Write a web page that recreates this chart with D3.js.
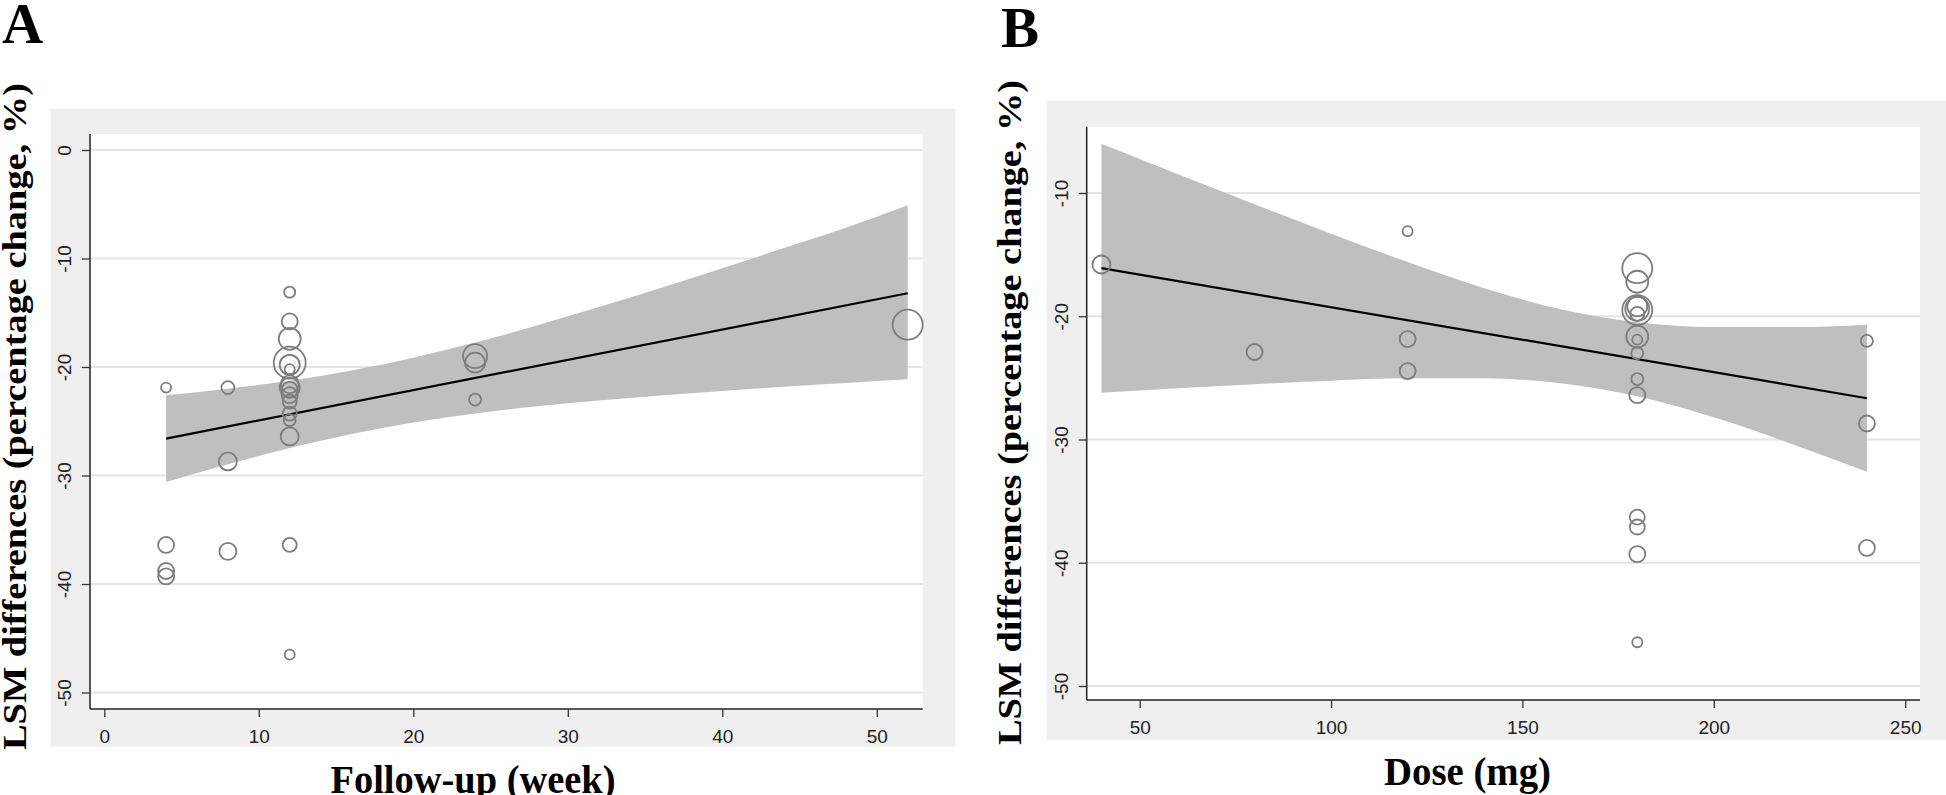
<!DOCTYPE html>
<html>
<head>
<meta charset="utf-8">
<script src="https://cdn.jsdelivr.net/npm/d3@7"></script>
<style>
  html, body { margin: 0; padding: 0; background: #ffffff; }
  svg { display: block; }
</style>
</head>
<body>
<svg id="chart" width="1946" height="795"></svg>
<script>
// ---------------- DATA ----------------
// Panel A: follow-up (week) vs LSM difference (%), marker size = study weight
const followUpWeeks = [4, 4, 4, 4, 8, 8, 8, 12, 12, 12, 12, 12, 12, 12, 12, 12, 12, 12, 12, 12, 12, 12, 12, 24, 24, 24, 52];
const lsmDiffA      = [-21.9, -36.4, -38.8, -39.3, -21.9, -28.7, -37.0, -13.1, -15.8, -17.4, -19.6, -19.8, -20.2, -21.6, -21.9, -22.1, -22.6, -23.2, -24.3, -24.9, -26.4, -36.4, -46.5, -19.0, -19.6, -23.0, -16.1];
const weightA       = [5, 8, 8, 8, 6.5, 9, 8.5, 5.5, 8, 11, 16, 10, 5, 9, 10, 8, 8, 7, 7, 6, 9, 7, 5, 12, 10, 6, 15];

// Panel A fitted line and 95% CI band
const fitA_x   = [4, 52];
const fitA_y   = [-26.6, -13.2];
const bandA_x  = [4, 8, 12, 16, 20, 24, 28, 32, 36, 40, 44, 48, 52];
const bandA_lo = [-30.6, -28.96, -27.47, -26.17, -25.11, -24.29, -23.62, -23.08, -22.62, -22.21, -21.82, -21.47, -21.13];
const bandA_hi = [-22.6, -22.0, -21.27, -20.33, -19.15, -17.75, -16.18, -14.48, -12.72, -10.89, -9.04, -7.17, -5.1];

// Panel B: dose (mg) vs LSM difference (%)
const doseMg   = [40, 80, 120, 120, 120, 180, 180, 180, 180, 180, 180, 180, 180, 180, 180, 180, 180, 180, 180, 180, 240, 240, 240];
const lsmDiffB = [-15.8, -22.9, -13.1, -21.85, -24.45, -16.1, -17.2, -19.2, -19.5, -19.8, -21.65, -21.9, -23.0, -25.1, -26.4, -36.3, -37.1, -39.3, -46.45, -19.4, -22.0, -28.7, -38.8];
const weightB  = [9, 8, 5, 8, 8, 15, 11, 10, 15, 7, 11, 5, 6, 6, 8, 7.5, 7.5, 8, 5, 12, 6, 8, 8];

// Panel B fitted line and 95% CI band
const fitB_x   = [40, 240];
const fitB_y   = [-16.1, -26.65];
const bandB_x  = [40, 60, 80, 100, 120, 140, 160, 180, 200, 220, 240];
const bandB_lo = [-26.2, -25.85, -25.51, -25.23, -25.04, -25.04, -25.43, -26.49, -28.2, -30.32, -32.62];
const bandB_hi = [-6.0, -8.47, -10.91, -13.31, -15.6, -17.72, -19.43, -20.49, -20.88, -20.88, -20.68];

// Ticks and labels
const ticksA_x = [0, 10, 20, 30, 40, 50];
const ticksA_y = [0, -10, -20, -30, -40, -50];
const ticksB_x = [50, 100, 150, 200, 250];
const ticksB_y = [-10, -20, -30, -40, -50];
const yTitle   = "LSM differences (percentage change, %)";
const xTitleA  = "Follow-up (week)";
const xTitleB  = "Dose (mg)";
const panelLabels = ["A", "B"];

// ---------------- LAYOUT ----------------
const svg = d3.select("#chart");
const SERIF = "'Liberation Serif', 'Times New Roman', serif";
const SANS  = "'Liberation Sans', Arial, sans-serif";

const panels = [
  {
    label: panelLabels[0], labelX: 2, labelY: 42.5,
    outer: {x: 50.7, y: 108.7, w: 904.9, h: 638},
    plot:  {x: 90, y: 134, w: 832.7, h: 575},
    x: d3.scaleLinear().domain([0, 50]).range([104.3, 876.8]),
    y: d3.scaleLinear().domain([0, -50]).range([150, 692.5]),
    xs: followUpWeeks, ys: lsmDiffA, ws: weightA,
    fitX: fitA_x, fitY: fitA_y, bx: bandA_x, blo: bandA_lo, bhi: bandA_hi,
    tx: ticksA_x, ty: ticksA_y,
    yTitleX: 25.5, yTitleY: 416.5, yTitleLen: 667,
    xTitle: xTitleA, xTitleX: 473, xTitleY: 792.5, xTitleLen: 285
  },
  {
    label: panelLabels[1], labelX: 1001, labelY: 46.5,
    outer: {x: 1046.7, y: 100.7, w: 899.3, h: 639.3},
    plot:  {x: 1086.7, y: 126.7, w: 833.3, h: 573.3},
    x: d3.scaleLinear().domain([50, 250]).range([1139.7, 1905.2]),
    y: d3.scaleLinear().domain([-10, -50]).range([193, 686]),
    xs: doseMg, ys: lsmDiffB, ws: weightB,
    fitX: fitB_x, fitY: fitB_y, bx: bandB_x, blo: bandB_lo, bhi: bandB_hi,
    tx: ticksB_x, ty: ticksB_y,
    yTitleX: 1021, yTitleY: 412.5, yTitleLen: 665,
    xTitle: xTitleB, xTitleX: 1467.5, xTitleY: 784.5, xTitleLen: 167
  }
];

const rScale = d3.scaleLinear().domain([0, 16]).range([0, 16]);

panels.forEach(p => {
  const g = svg.append("g");
  const P = p.plot;

  // outer grey graph region
  g.append("rect").attr("x", p.outer.x).attr("y", p.outer.y)
    .attr("width", p.outer.w).attr("height", p.outer.h).attr("fill", "#efefef");
  // white plot region
  g.append("rect").attr("x", P.x).attr("y", P.y)
    .attr("width", P.w).attr("height", P.h).attr("fill", "#ffffff");

  // gridlines
  g.selectAll(".grid").data(p.ty).join("line")
    .attr("x1", P.x).attr("x2", P.x + P.w)
    .attr("y1", d => p.y(d)).attr("y2", d => p.y(d))
    .attr("stroke", "#e4e4e4").attr("stroke-width", 2);

  // CI band
  const bandData = p.bx.map((v, i) => ({x: v, lo: p.blo[i], hi: p.bhi[i]}));
  g.append("path").datum(bandData)
    .attr("d", d3.area().x(d => p.x(d.x)).y0(d => p.y(d.lo)).y1(d => p.y(d.hi)).curve(d3.curveMonotoneX))
    .attr("fill", "#bfbfbf");

  // fitted line
  const fitData = p.fitX.map((v, i) => ({x: v, y: p.fitY[i]}));
  g.append("path").datum(fitData)
    .attr("d", d3.line().x(d => p.x(d.x)).y(d => p.y(d.y)))
    .attr("fill", "none").attr("stroke", "#000").attr("stroke-width", 2.2);

  // points
  const pts = p.xs.map((v, i) => ({x: v, y: p.ys[i], w: p.ws[i]}));
  g.selectAll(".pt").data(pts).join("circle")
    .attr("cx", d => p.x(d.x)).attr("cy", d => p.y(d.y)).attr("r", d => rScale(d.w))
    .attr("fill", "none").attr("stroke", "#7d7d7d").attr("stroke-width", 1.8);

  // axis lines
  g.append("line").attr("x1", P.x).attr("x2", P.x).attr("y1", P.y).attr("y2", P.y + P.h)
    .attr("stroke", "#222").attr("stroke-width", 1.5);
  g.append("line").attr("x1", P.x).attr("x2", P.x + P.w).attr("y1", P.y + P.h).attr("y2", P.y + P.h)
    .attr("stroke", "#222").attr("stroke-width", 1.5);

  // x axis
  const xa = g.append("g").attr("transform", `translate(0,${P.y + P.h})`)
    .call(d3.axisBottom(p.x).tickValues(p.tx).tickSize(8).tickFormat(d => String(d)));
  xa.select(".domain").remove();
  xa.selectAll(".tick line").attr("stroke", "#333").attr("stroke-width", 1.3);
  xa.selectAll(".tick text").attr("y", 34).attr("dy", null)
    .attr("font-family", SANS).attr("font-size", 19).attr("fill", "#222");

  // y axis with rotated labels
  const ya = g.append("g").attr("transform", `translate(${P.x},0)`)
    .call(d3.axisLeft(p.y).tickValues(p.ty).tickSize(8).tickFormat(d => String(d)));
  ya.select(".domain").remove();
  ya.selectAll(".tick line").attr("stroke", "#333").attr("stroke-width", 1.3);
  ya.selectAll(".tick text").attr("x", null).attr("dy", null)
    .attr("transform", "translate(-19,0) rotate(-90)")
    .attr("text-anchor", "middle")
    .attr("font-family", SANS).attr("font-size", 19).attr("fill", "#222");

  // y title
  g.append("text")
    .attr("transform", `translate(${p.yTitleX},${p.yTitleY}) rotate(-90)`)
    .attr("text-anchor", "middle")
    .attr("font-family", SERIF).attr("font-weight", "bold").attr("font-size", 33)
    .attr("textLength", p.yTitleLen).attr("lengthAdjust", "spacingAndGlyphs")
    .attr("fill", "#000").text(yTitle);

  // x title
  g.append("text")
    .attr("x", p.xTitleX).attr("y", p.xTitleY)
    .attr("text-anchor", "middle")
    .attr("font-family", SERIF).attr("font-weight", "bold").attr("font-size", 40)
    .attr("textLength", p.xTitleLen).attr("lengthAdjust", "spacingAndGlyphs")
    .attr("fill", "#000").text(p.xTitle);

  // panel letter
  g.append("text").attr("x", p.labelX).attr("y", p.labelY)
    .attr("font-family", SERIF).attr("font-weight", "bold").attr("font-size", 57)
    .attr("fill", "#000").text(p.label);
});
</script>
</body>
</html>
